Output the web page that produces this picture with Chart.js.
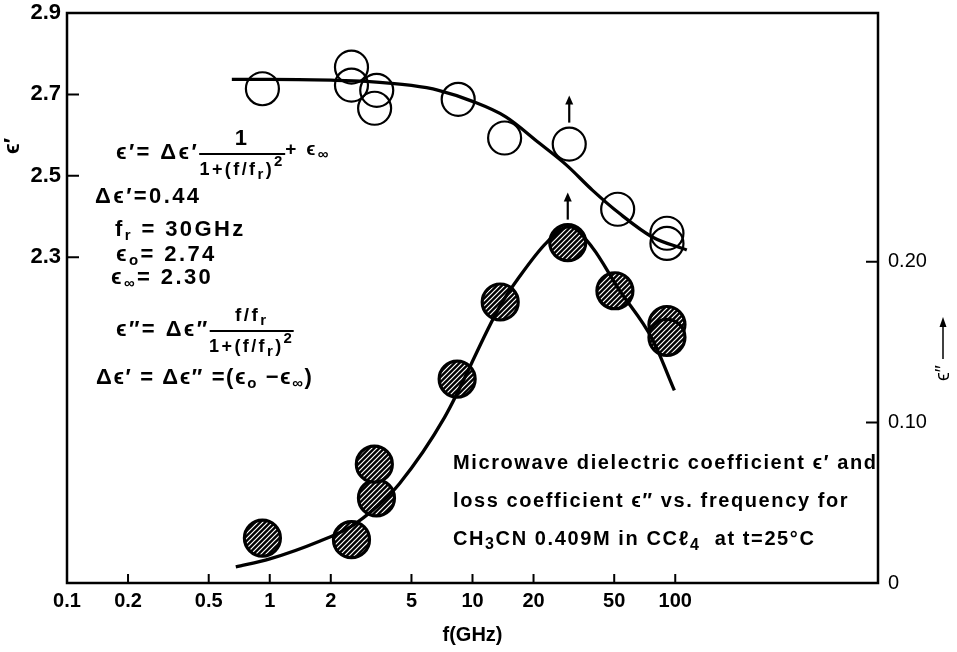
<!DOCTYPE html>
<html>
<head>
<meta charset="utf-8">
<script src="https://cdn.jsdelivr.net/npm/chart.js@4.4.0/dist/chart.umd.min.js"></script>
<style>
html, body { margin:0; padding:0; background:#fff; }
canvas { display:block; }
</style>
</head>
<body>
<canvas id="grafico" width="957" height="652"></canvas>
<script>
//punti misurati eps' (cerchi vuoti)
var fEps1 = [0.92, 2.53, 2.53, 3.37, 3.29, 8.5, 14.4, 30, 52, 91, 91];
var eps1 = [2.714, 2.767, 2.723, 2.710, 2.666, 2.688, 2.593, 2.578, 2.418, 2.359, 2.334];
//punti misurati eps'' (cerchi tratteggiati)
var fEps2 = [0.92, 2.53, 3.36, 3.28, 8.4, 13.7, 29.5, 50.4, 91, 91];
var eps2 = [0.028, 0.027, 0.053, 0.074, 0.127, 0.175, 0.212, 0.182, 0.161, 0.153];
//curve di fit
var fFit1 = [0.65, 1, 2, 3, 5, 6.8, 10, 14.6, 21.4, 29, 39, 53, 77, 114];
var fit1 = [2.737, 2.737, 2.735, 2.732, 2.722, 2.71, 2.683, 2.645, 2.58, 2.527, 2.465, 2.408, 2.35, 2.318];
var fFit2 = [0.68, 1, 1.76, 2.5, 3.4, 4.37, 7.27, 13.6, 17.1, 23.2, 30, 39, 52.6, 77, 99];
var fit2 = [0.010, 0.015, 0.026, 0.035, 0.048, 0.062, 0.103, 0.172, 0.191, 0.212, 0.222, 0.209, 0.183, 0.152, 0.120];
//frecce sopra i punti
var frecceEps1 = [30];
var frecceEps2 = [29.5];
//tick
var xTicks = [0.1, 0.2, 0.5, 1, 2, 5, 10, 20, 50, 100];
var xLabels = ["0.1", "0.2", "0.5", "1", "2", "5", "10", "20", "50", "100"];
var yTicks = [2.3, 2.5, 2.7, 2.9];
var yLabels = ["2.3", "2.5", "2.7", "2.9"];
var y2Ticks = [0, 0.1, 0.2];
var y2Labels = ["0", "0.10", "0.20"];

const FONT = '"Liberation Sans", "DejaVu Sans", Arial, sans-serif';

function punti(xx, yy) {
	return xx.map((v, i) => ({ x: v, y: yy[i] }));
}

//pattern tratteggiato
function tratteggio() {
	var c = document.createElement('canvas');
	c.width = 5; c.height = 5;
	var g = c.getContext('2d');
	g.fillStyle = '#000';
	g.fillRect(0, 0, 5, 5);
	g.strokeStyle = '#fff';
	g.lineWidth = 1.2;
	g.beginPath();
	g.moveTo(-1, 6); g.lineTo(6, -1);
	g.moveTo(-1, 1); g.lineTo(1, -1);
	g.moveTo(4, 6); g.lineTo(6, 4);
	g.stroke();
	return g.createPattern(c, 'repeat');
}

//scrive testo a pezzi (pedici, apici)
function scrivi(ctx, x, y, pezzi, size) {
	for (const p of pezzi) {
		var s = p[1] || size;
		ctx.font = 'bold ' + s + 'px ' + FONT;
		ctx.fillText(p[0], x, y + (p[2] || 0));
		x += ctx.measureText(p[0]).width;
	}
	return x;
}
function larghezza(ctx, pezzi, size) {
	var w = 0;
	for (const p of pezzi) {
		ctx.font = 'bold ' + (p[1] || size) + 'px ' + FONT;
		w += ctx.measureText(p[0]).width;
	}
	return w;
}
function frazione(ctx, x, y, num, den, w, size) {
	ctx.save();
	ctx.lineWidth = 2;
	ctx.beginPath();
	ctx.moveTo(x, y); ctx.lineTo(x + w, y);
	ctx.stroke();
	ctx.restore();
	var wn = larghezza(ctx, num, size);
	scrivi(ctx, x + (w - wn) / 2, y - 15, num, size);
	var wd = larghezza(ctx, den, size);
	scrivi(ctx, x + (w - wd) / 2, y + 16, den, size);
	return x + w;
}

const cornice = {
	id: 'cornice',
	afterDatasetsDraw(chart) {
		const ctx = chart.ctx;
		const a = chart.chartArea;
		const sx = chart.scales.x, sy = chart.scales.y, sy2 = chart.scales.y2;
		ctx.save();
		ctx.strokeStyle = '#000';
		ctx.lineWidth = 2.5;
		ctx.strokeRect(a.left, a.top, a.right - a.left, a.bottom - a.top);
		ctx.lineWidth = 2;
		ctx.beginPath();
		xTicks.forEach(v => {
			if (v <= sx.min) return;
			var px = sx.getPixelForValue(v);
			ctx.moveTo(px, a.bottom); ctx.lineTo(px, a.bottom - 9);
		});
		yTicks.forEach(v => {
			if (v >= sy.max) return;
			var py = sy.getPixelForValue(v);
			ctx.moveTo(a.left, py); ctx.lineTo(a.left + 12, py);
		});
		y2Ticks.forEach(v => {
			if (v <= sy2.min) return;
			var py = sy2.getPixelForValue(v);
			ctx.moveTo(a.right, py); ctx.lineTo(a.right - 12, py);
		});
		ctx.stroke();

		//frecce
		function freccia(px, py, r) {
			var y0 = py - r - 5, y1 = y0 - 27;
			ctx.lineWidth = 2.2;
			ctx.beginPath();
			ctx.moveTo(px, y0); ctx.lineTo(px, y1 + 6);
			ctx.stroke();
			ctx.beginPath();
			ctx.moveTo(px, y1); ctx.lineTo(px - 4, y1 + 9); ctx.lineTo(px + 4, y1 + 9);
			ctx.closePath();
			ctx.fill();
		}
		ctx.fillStyle = '#000';
		frecceEps1.forEach(f => {
			var i = fEps1.indexOf(f);
			freccia(sx.getPixelForValue(f), sy.getPixelForValue(eps1[i]), 16.5);
		});
		frecceEps2.forEach(f => {
			var i = fEps2.indexOf(f);
			freccia(sx.getPixelForValue(f), sy2.getPixelForValue(eps2[i]), 18);
		});
		ctx.restore();
	},
	afterDraw(chart) {
		const ctx = chart.ctx;
		ctx.save();
		ctx.fillStyle = '#000';
		ctx.strokeStyle = '#000';
		ctx.textBaseline = 'middle';
		ctx.textAlign = 'left';
		try { ctx.letterSpacing = '2.4px'; } catch (e) {}
		var S = 22, s = 15;
		//formule
		var x = scrivi(ctx, 116, 153, [["ϵ′= Δϵ′"]], S);
		x = frazione(ctx, x, 154, [["1"]], [["1+(f/f", 18], ["r", s, 5], [")", 18], ["2", s, -8]], 86, S);
		scrivi(ctx, x, 150, [["+ ϵ", 19], ["∞", s, 5]], S);
		scrivi(ctx, 95, 197, [["Δϵ′=0.44"]], S);
		scrivi(ctx, 115, 230, [["f"], ["r", s, 6], [" = 30GHz"]], S);
		scrivi(ctx, 116, 255, [["ϵ"], ["o", s, 6], ["= 2.74"]], S);
		scrivi(ctx, 111, 278, [["ϵ"], ["∞", s, 6], ["= 2.30"]], S);
		x = scrivi(ctx, 116, 330, [["ϵ″= Δϵ″"]], S);
		frazione(ctx, x, 331, [["f/f", 19], ["r", s, 5]], [["1+(f/f", 18], ["r", s, 5], [")", 18], ["2", s, -8]], 84, S);
		try { ctx.letterSpacing = '1.6px'; } catch (e) {}
		scrivi(ctx, 96, 378, [["Δϵ′ = Δϵ″ =(ϵ"], ["o", s, 6], [" −ϵ"], ["∞", s, 6], [")"]], S);

		//didascalia
		try { ctx.letterSpacing = '1.6px'; } catch (e) {}
		scrivi(ctx, 453, 463, [["Microwave dielectric coefficient ϵ′ and"]], 20);
		scrivi(ctx, 453, 501, [["loss coefficient ϵ″ vs. frequency for"]], 20);
		scrivi(ctx, 453, 539, [["CH"], ["3", 16, 6], ["CN 0.409M in CCℓ"], ["4", 16, 7], ["  at t=25°C"]], 20);

		//etichette assi
		try { ctx.letterSpacing = '0px'; } catch (e) {}
		ctx.save();
		ctx.translate(13, 146);
		ctx.rotate(-Math.PI / 2);
		ctx.textAlign = 'center';
		ctx.font = 'bold 22px ' + FONT;
		ctx.fillText("ϵ′", 0, 0);
		ctx.restore();

		ctx.save();
		ctx.translate(943, 373);
		ctx.rotate(-Math.PI / 2);
		ctx.font = '20px ' + FONT;
		ctx.textAlign = 'left';
		ctx.fillText("ϵ″", -8, 0);
		ctx.lineWidth = 1.5;
		ctx.beginPath();
		ctx.moveTo(14, 0); ctx.lineTo(48, 0);
		ctx.stroke();
		ctx.beginPath();
		ctx.moveTo(56, 0); ctx.lineTo(46, -3.5); ctx.lineTo(46, 3.5);
		ctx.closePath();
		ctx.fill();
		ctx.restore();
		ctx.restore();
	}
};

function senzaPadding(s) {
	s.paddingTop = 0; s.paddingBottom = 0;
	s.paddingLeft = 0; s.paddingRight = 0;
}

new Chart(document.getElementById('grafico'), {
	type: 'scatter',
	data: {
		datasets: [
			{
				data: punti(fFit1, fit1),
				yAxisID: 'y',
				showLine: true,
				pointRadius: 0,
				borderColor: '#000',
				borderWidth: 3.3,
				cubicInterpolationMode: 'monotone',
				fill: false
			},
			{
				data: punti(fFit2, fit2),
				yAxisID: 'y2',
				showLine: true,
				pointRadius: 0,
				borderColor: '#000',
				borderWidth: 3.3,
				cubicInterpolationMode: 'monotone',
				fill: false
			},
			{
				data: punti(fEps1, eps1),
				yAxisID: 'y',
				pointStyle: 'circle',
				pointRadius: 16.5,
				borderColor: '#000',
				borderWidth: 2.2,
				backgroundColor: 'rgba(0,0,0,0)'
			},
			{
				data: punti(fEps2, eps2),
				yAxisID: 'y2',
				pointStyle: 'circle',
				pointRadius: 18,
				borderColor: '#000',
				borderWidth: 3.2,
				backgroundColor: tratteggio()
			}
		]
	},
	options: {
		responsive: false,
		animation: false,
		devicePixelRatio: 1,
		layout: { autoPadding: false, padding: { top: 13, left: 0, right: 0, bottom: 0 } },
		plugins: { legend: { display: false }, tooltip: { enabled: false } },
		scales: {
			x: {
				type: 'logarithmic',
				min: 0.1,
				max: 1000,
				grid: { display: false, drawTicks: false },
				border: { display: false },
				afterBuildTicks: s => { s.ticks = xTicks.map(v => ({ value: v })); },
				afterFit: s => { s.height = 69; senzaPadding(s); },
				ticks: {
					autoSkip: false,
					maxRotation: 0,
					padding: 6,
					color: '#000',
					font: { family: FONT, size: 20, weight: 'bold' },
					callback: (v, i) => xLabels[i]
				},
				title: {
					display: true,
					text: 'f(GHz)',
					color: '#000',
					font: { family: FONT, size: 20, weight: 'bold' },
					padding: { top: 0, bottom: 5 }
				}
			},
			y: {
				position: 'left',
				min: 1.5,
				max: 2.9,
				grid: { display: false, drawTicks: false },
				border: { display: false },
				afterBuildTicks: s => { s.ticks = yTicks.map(v => ({ value: v })); },
				afterFit: s => { s.width = 67; senzaPadding(s); },
				ticks: {
					padding: 6,
					color: '#000',
					font: { family: FONT, size: 22, weight: 'bold' },
					callback: (v, i) => yLabels[i]
				}
			},
			y2: {
				position: 'right',
				min: 0,
				max: 0.355,
				grid: { display: false, drawTicks: false },
				border: { display: false },
				afterBuildTicks: s => { s.ticks = y2Ticks.map(v => ({ value: v })); },
				afterFit: s => { s.width = 79; senzaPadding(s); },
				ticks: {
					padding: 10,
					color: '#000',
					font: { family: FONT, size: 20 },
					callback: (v, i) => y2Labels[i]
				}
			}
		}
	},
	plugins: [cornice]
});
</script>
</body>
</html>
